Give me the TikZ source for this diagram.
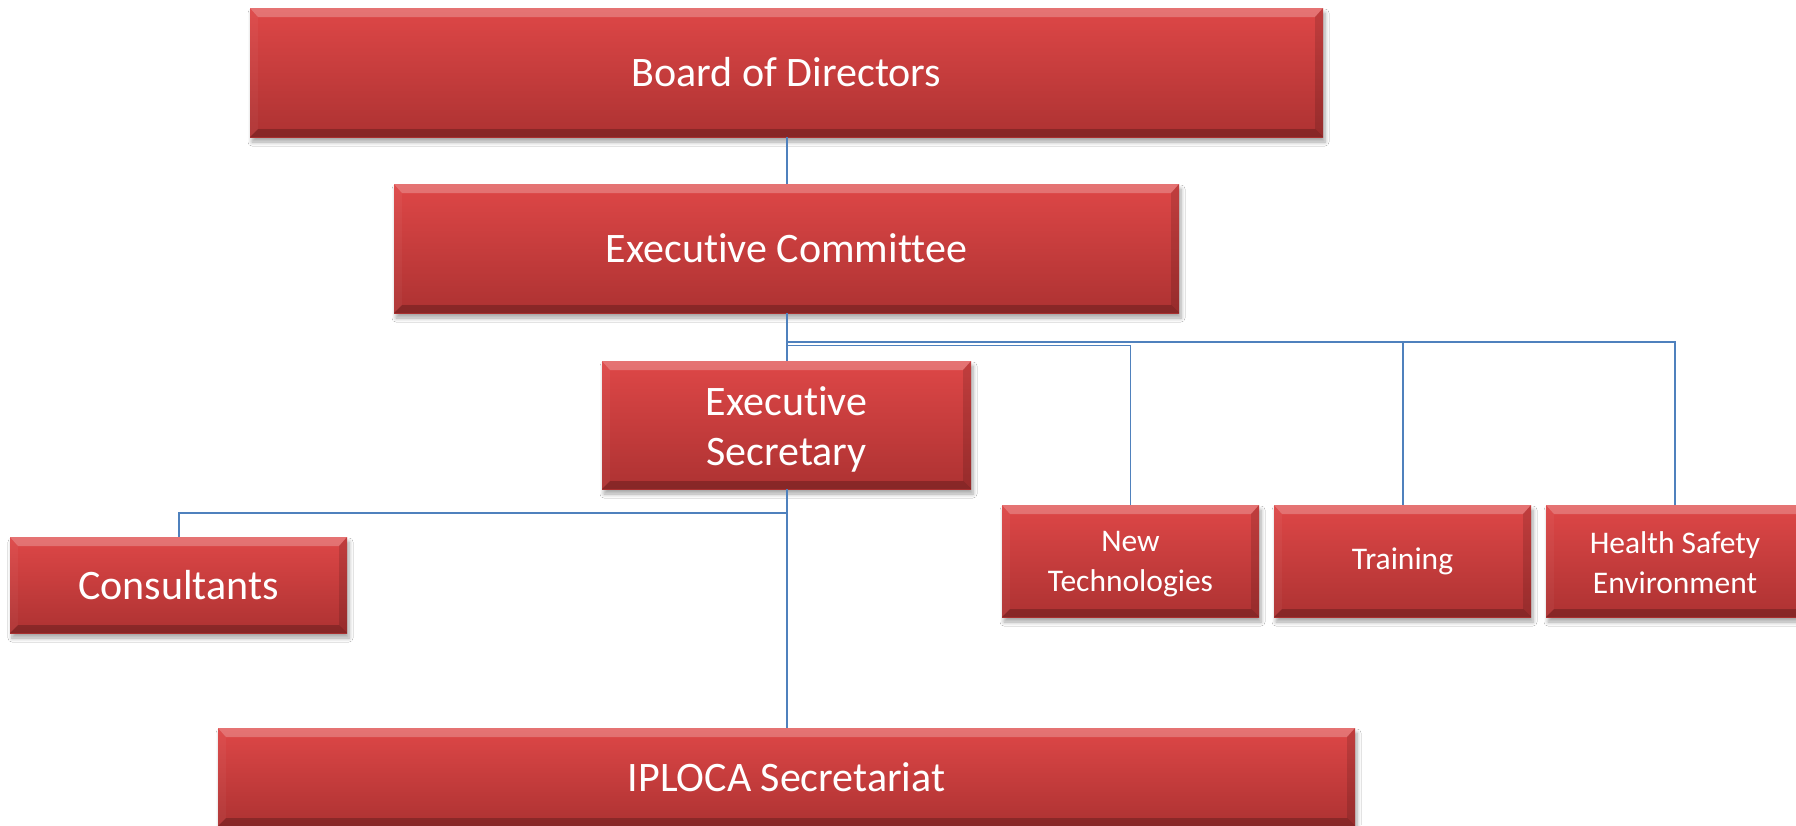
\documentclass[tikz,border=0pt]{standalone}
\usepackage{fontspec}
\setmainfont{Carlito}[Ligatures={NoCommon,NoContextual}]
\usetikzlibrary{shadows.blur}
\definecolor{rtop}{HTML}{DE4747}
\definecolor{rbot}{HTML}{AD3232}
\definecolor{linkblue}{HTML}{4F81BD}
\tikzset{
  bevbox/.style={rectangle, inner sep=0pt, outer sep=0pt, align=center,
    text=white, top color=rtop, bottom color=rbot, draw=none,
    blur shadow={shadow xshift=2pt, shadow yshift=-5pt, shadow opacity=35, shadow blur steps=6, shadow blur radius=4pt},
    path picture={
      \fill[white,opacity=0.24] (path picture bounding box.north west) -- (path picture bounding box.north east)
        -- ([xshift=-8pt,yshift=-9pt]path picture bounding box.north east) -- ([xshift=8pt,yshift=-9pt]path picture bounding box.north west) -- cycle;
      \fill[black,opacity=0.22] (path picture bounding box.south west) -- (path picture bounding box.south east)
        -- ([xshift=-8pt,yshift=8pt]path picture bounding box.south east) -- ([xshift=8pt,yshift=8pt]path picture bounding box.south west) -- cycle;
      \fill[black,opacity=0.13] (path picture bounding box.north east) -- (path picture bounding box.south east)
        -- ([xshift=-8pt,yshift=8pt]path picture bounding box.south east) -- ([xshift=-8pt,yshift=-9pt]path picture bounding box.north east) -- cycle;
      \fill[white,opacity=0.04] (path picture bounding box.north west) -- (path picture bounding box.south west)
        -- ([xshift=8pt,yshift=8pt]path picture bounding box.south west) -- ([xshift=8pt,yshift=-9pt]path picture bounding box.north west) -- cycle;
    }},
  bigtext/.style={font=\fontsize{42}{50}\selectfont},
  smalltext/.style={font=\fontsize{31.5}{40}\selectfont},
  link/.style={draw=linkblue, line width=2pt},
  thinlink/.style={draw=linkblue, line width=1.4pt}
}
\begin{document}
\begin{tikzpicture}[x=1pt,y=-1pt]
\fill[white] (0,0) rectangle (1796,825);
\useasboundingbox (0,0) rectangle (1796,825);

\coordinate (j1) at (786.5,342);
\coordinate (j2) at (786.5,345.5);
\coordinate (j3) at (786.5,513);

\node[bevbox, bigtext, minimum width=1073pt, minimum height=129pt] (board) at (786.5,72.5) {Board of Directors};
\node[bevbox, bigtext, minimum width=785pt, minimum height=129pt] (excom) at (786.5,248.5) {Executive Committee};
\node[bevbox, bigtext, minimum width=369pt, minimum height=128pt] (exsec) at (786.5,425) {\rule{0pt}{38pt}Executive\\Secretary};
\node[bevbox, bigtext, minimum width=337pt, minimum height=96pt] (cons) at (178.5,585) {Consultants};
\node[bevbox, smalltext, minimum width=257pt, minimum height=112pt] (newtech) at (1130.5,561) {\rule{0pt}{27pt}New\\Technologies};
\node[bevbox, smalltext, minimum width=257pt, minimum height=112pt] (training) at (1402.5,561) {Training};
\node[bevbox, smalltext, minimum width=258pt, minimum height=112pt] (hse) at (1675,561) {\rule{0pt}{25pt}Health Safety\\Environment};
\node[bevbox, bigtext, minimum width=1137pt, minimum height=98pt] (iploca) at (786.5,777) {IPLOCA Secretariat};

\draw[link] (board.south) -- (excom.north);
\draw[link] (excom.south) -- (exsec.north);
\draw[link] (j1) -| (hse.north);
\draw[link] (training.north |- j1) -- (training.north);
\draw[thinlink] (j2) -| (newtech.north);
\draw[link] (exsec.south) -- (iploca.north);
\draw[link] (j3) -| (cons.north);
\end{tikzpicture}
\end{document}
